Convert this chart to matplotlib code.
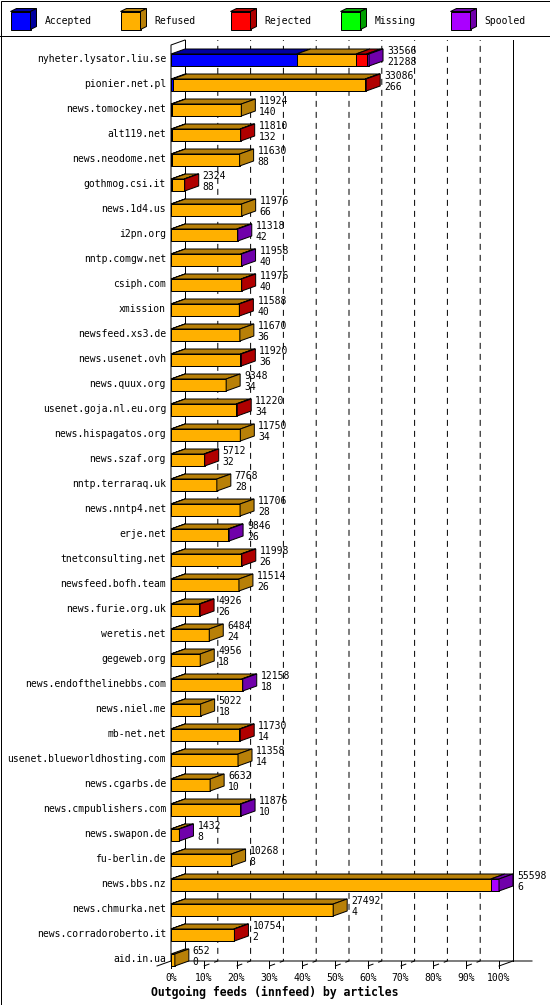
import numpy as np
import matplotlib
matplotlib.use('Agg')
import matplotlib.pyplot as plt
from matplotlib.patches import Polygon, Rectangle

hosts = ['nyheter.lysator.liu.se', 'pionier.net.pl', 'news.tomockey.net', 'alt119.net',
         'news.neodome.net', 'gothmog.csi.it', 'news.1d4.us', 'i2pn.org', 'nntp.comgw.net',
         'csiph.com', 'xmission', 'newsfeed.xs3.de', 'news.usenet.ovh', 'news.quux.org',
         'usenet.goja.nl.eu.org', 'news.hispagatos.org', 'news.szaf.org', 'nntp.terraraq.uk',
         'news.nntp4.net', 'erje.net', 'tnetconsulting.net', 'newsfeed.bofh.team',
         'news.furie.org.uk', 'weretis.net', 'gegeweb.org', 'news.endofthelinebbs.com',
         'news.niel.me', 'mb-net.net', 'usenet.blueworldhosting.com', 'news.cgarbs.de',
         'news.cmpublishers.com', 'news.swapon.de', 'fu-berlin.de', 'news.bbs.nz',
         'news.chmurka.net', 'news.corradoroberto.it', 'aid.in.ua']

# totals printed next to the bars
offered = [33566, 33086, 11924, 11810, 11630, 2324, 11976, 11318, 11958, 11976,
           11588, 11670, 11920, 9348, 11220, 11750, 5712, 7768, 11706, 9846,
           11998, 11514, 4926, 6484, 4956, 12158, 5022, 11730, 11358, 6632,
           11876, 1432, 10268, 55598, 27492, 10754, 652]

accepted = [21288, 266, 140, 132, 88, 88, 66, 42, 40, 40,
            40, 36, 36, 34, 34, 34, 32, 28, 28, 26,
            26, 26, 26, 24, 18, 18, 18, 14, 14, 10,
            10, 8, 8, 6, 4, 2, 0]

refused = [10068, 32640, 11784, 11558, 11542, 2146, 11910, 11096, 11768, 11826,
           11408, 11634, 11724, 9314, 10986, 11716, 5550, 7740, 11678, 9660,
           11822, 11488, 4760, 6460, 4938, 11970, 5004, 11596, 11344, 6622,
           11726, 1274, 10260, 54192, 27488, 10642, 652]

rejected = [1790, 180, 0, 120, 0, 90, 0, 0, 0, 110,
            140, 0, 160, 0, 200, 0, 130, 0, 0, 0,
            150, 0, 140, 0, 0, 0, 0, 120, 0, 0,
            0, 0, 0, 0, 0, 110, 0]

missing = [0, 0, 0, 0, 0, 0, 0, 0, 0, 0,
           0, 0, 0, 0, 0, 0, 0, 0, 0, 0,
           0, 0, 0, 0, 0, 0, 0, 0, 0, 0,
           0, 0, 0, 0, 0, 0, 0]

spooled = [420, 0, 0, 0, 0, 0, 0, 180, 150, 0,
           0, 0, 0, 0, 0, 0, 0, 0, 0, 160,
           0, 0, 0, 0, 0, 170, 0, 0, 0, 0,
           140, 150, 0, 1400, 0, 0, 0]

series_names = ['Accepted', 'Refused', 'Rejected', 'Missing', 'Spooled']
face_colors = ['#0000ff', '#ffb000', '#ff0000', '#00ff00', '#aa00ff']
dark_colors = ['#0000a0', '#b88008', '#b00000', '#00a000', '#7000aa']
tick_labels = ['0%', '10%', '20%', '30%', '40%', '50%', '60%', '70%', '80%', '90%', '100%']
title = 'Outgoing feeds (innfeed) by articles'

W, H, DPI = 550, 1005, 100
X0, X1 = 171, 499        # front plane 0% / 100% in pixels
ROW0, ROW_STEP = 60, 25  # centre of first bar, row spacing
DX, DY = 14, 5           # 3d depth in pixels
LW = 72.0 / DPI
FONT = 'DejaVu Sans Mono'


def px_x(p):
    return (p - X0) * 100.0 / (X1 - X0)


def px_y(p):
    return (p - ROW0) / ROW_STEP


def draw_frame(fr):
    fr.add_patch(Rectangle((0.5, 0.5), W - 1, H - 1, fill=False, edgecolor='black', linewidth=LW))
    fr.plot([0, W], [36, 36], color='black', linewidth=LW)
    for k, name in enumerate(series_names):
        x = 10.5 + 110 * k
        fr.add_patch(Rectangle((x, 11.5), 20, 18, facecolor=face_colors[k], edgecolor='black', linewidth=LW))
        fr.add_patch(Polygon([(x, 11.5), (x + 20, 11.5), (x + 26, 8.5), (x + 6, 8.5)],
                             closed=True, facecolor=dark_colors[k], edgecolor='black', linewidth=LW))
        fr.add_patch(Polygon([(x + 20, 11.5), (x + 26, 8.5), (x + 26, 26.5), (x + 20, 29.5)],
                             closed=True, facecolor=dark_colors[k], edgecolor='black', linewidth=LW))
        fr.text(x + 34, 21, name, fontsize=7, family=FONT, ha='left', va='center')
    fr.text(W / 2, 992, title, fontsize=8.3, family=FONT, fontweight='bold', ha='center', va='center')


def draw_axes(ax, dx):
    top, floor, front = px_y(40), px_y(961), px_y(966)
    for k in range(1, 10):
        x = 10 * k
        ax.plot([x, x + dx, x + dx], [front, floor, top], color='black', linewidth=LW,
                linestyle=(0, (6, 5)), zorder=1)
    ax.plot([100 + dx, 100 + dx], [top, floor], color='black', linewidth=LW, zorder=1)
    ax.plot([dx, dx], [top, floor], color='black', linewidth=LW, zorder=1)
    ax.plot([0, 0, dx], [floor, px_y(45), top], color='black', linewidth=LW, zorder=1)
    ax.plot([px_x(157), 0, px_x(532)], [front, floor, floor], color='black', linewidth=LW, zorder=1)
    ax.plot([100, 100 + dx], [front, floor], color='black', linewidth=LW, zorder=1)
    for k, lab in enumerate(tick_labels):
        x = 10 * k
        ax.plot([x, x], [floor, px_y(968)], color='black', linewidth=LW, zorder=1)
        ax.text(x, px_y(978), lab, fontsize=7, family=FONT, ha='center', va='center')


def draw_bars(ax, dx, dy):
    n = len(hosts)
    rows = np.arange(n)
    scale = 100.0 / max(offered)
    bar_h = 12.0 / ROW_STEP
    left = np.zeros(n)
    last = np.zeros(n, dtype=int)
    for k, vals in enumerate([accepted, refused, rejected, missing, spooled]):
        w = np.array(vals) * scale
        m = w > 0
        if m.any():
            ax.barh(rows[m], w[m], left=left[m], height=bar_h, color=face_colors[k],
                    edgecolor='black', linewidth=LW, zorder=3)
        for i in rows[m]:
            l, r = left[i], left[i] + w[i]
            yt = i - bar_h / 2
            ax.add_patch(Polygon([(l, yt), (r, yt), (r + dx, yt - dy), (l + dx, yt - dy)], closed=True,
                                 facecolor=dark_colors[k], edgecolor='black', linewidth=LW, zorder=3))
        last[m] = k
        left = left + w

    gap = (DX + 4) * 100.0 / (X1 - X0)
    for i in rows:
        r = left[i]
        yt, yb = i - bar_h / 2, i + bar_h / 2
        ax.add_patch(Polygon([(r, yt), (r + dx, yt - dy), (r + dx, yb - dy), (r, yb)], closed=True,
                             facecolor=dark_colors[last[i]], edgecolor='black', linewidth=LW, zorder=3))
        ax.text(r + gap, i - 0.38, str(offered[i]), fontsize=7, family=FONT, ha='left', va='center', zorder=4)
        ax.text(r + gap, i + 0.06, str(accepted[i]), fontsize=7, family=FONT, ha='left', va='center', zorder=4)
        ax.text(px_x(166), i - 0.04, hosts[i], fontsize=7, family=FONT, ha='right', va='center', zorder=4)


if __name__ == "__main__":
    fig = plt.figure(figsize=(W / DPI, H / DPI), dpi=DPI)
    fig.patch.set_facecolor('white')

    fr = fig.add_axes([0, 0, 1, 1])
    fr.set_xlim(0, W)
    fr.set_ylim(H, 0)
    fr.axis('off')
    draw_frame(fr)

    ax = fig.add_axes([0, 0, 1, 1])
    ax.set_xlim(px_x(0), px_x(W))
    ax.set_ylim(px_y(H), px_y(0))
    ax.axis('off')

    dx = DX * 100.0 / (X1 - X0)
    dy = DY / ROW_STEP
    draw_axes(ax, dx)
    draw_bars(ax, dx, dy)

    fig.savefig('out.png', dpi=DPI)
